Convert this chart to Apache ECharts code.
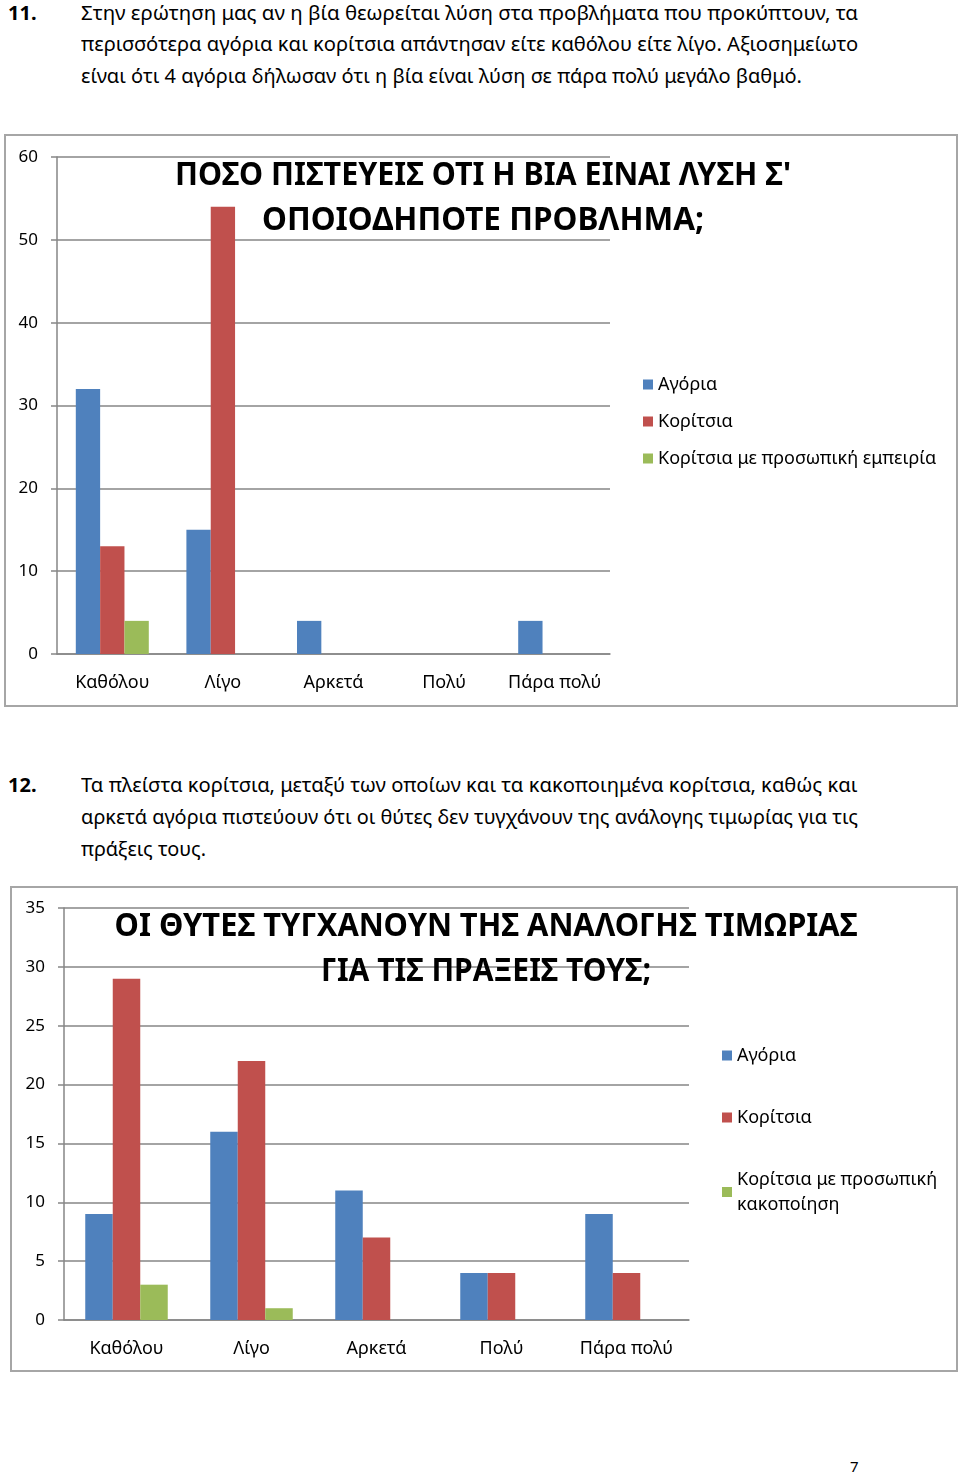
<!DOCTYPE html>
<html>
<head>
<meta charset="utf-8">
<script src="https://cdn.jsdelivr.net/npm/echarts@6/dist/echarts.min.js"></script>
<style>
  body { margin: 0; background: #fff; font-family: "Noto Sans", "Open Sans", sans-serif; }
  .page { position: relative; width: 960px; height: 1475px; }
  .line { position: absolute; white-space: nowrap; font-size: 20px; color: #000; transform-origin: left center; line-height: 24px; }
  .num { position: absolute; font-weight: bold; font-size: 20px; line-height: 24px; }
  .box { position: absolute; border: 2px solid #a6a6a6; box-sizing: border-box; }
</style>
</head>
<body>
<div class="page">
  <div class="num" style="left:8px; top:1px;">11.</div>
  <div class="line fit" data-w="777" style="left:81px; top:1px;">Στην ερώτηση μας αν η βία θεωρείται λύση στα προβλήματα που προκύπτουν, τα</div>
  <div class="line fit" data-w="777" style="left:81px; top:32px;">περισσότερα αγόρια και κορίτσια απάντησαν είτε καθόλου είτε λίγο. Αξιοσημείωτο</div>
  <div class="line fit" data-w="721" style="left:81px; top:64px;">είναι ότι 4 αγόρια δήλωσαν ότι η βία είναι λύση σε πάρα πολύ μεγάλο βαθμό.</div>

  <div class="box" id="chart1" style="left:4px; top:134px; width:954px; height:573px;"></div>

  <div class="num" style="left:8px; top:773px;">12.</div>
  <div class="line fit" data-w="777" style="left:81px; top:773px;">Τα πλείστα κορίτσια, μεταξύ των οποίων και τα κακοποιημένα κορίτσια, καθώς και</div>
  <div class="line fit" data-w="777" style="left:81px; top:805px;">αρκετά αγόρια πιστεύουν ότι οι θύτες δεν τυγχάνουν της ανάλογης τιμωρίας για τις</div>
  <div class="line fit" data-w="125" style="left:81px; top:837px;">πράξεις τους.</div>

  <div class="box" id="chart2" style="left:10px; top:886px; width:948px; height:486px;"></div>

  <div class="line" style="left:850px; top:1454px; font-size:15px;">7</div>
</div>
<script>
  // κατηγορίες και τιμές
  var categories = ["Καθόλου", "Λίγο", "Αρκετά", "Πολύ", "Πάρα πολύ"];
  var seriesNames1 = ["Αγόρια", "Κορίτσια", "Κορίτσια με προσωπική εμπειρία"];
  var boys1 = [32, 15, 4, 0, 4];
  var girls1 = [13, 54, 0, 0, 0];
  var girlsExp1 = [4, 0, 0, 0, 0];

  var seriesNames2 = ["Αγόρια", "Κορίτσια", "Κορίτσια με προσωπική κακοποίηση"];
  var boys2 = [9, 16, 11, 4, 9];
  var girls2 = [29, 22, 7, 4, 4];
  var girlsAbuse2 = [3, 1, 0, 0, 0];

  var titleLines1 = ["ΠΟΣΟ ΠΙΣΤΕΥΕΙΣ ΟΤΙ Η ΒΙΑ ΕΙΝΑΙ ΛΥΣΗ Σ'", "ΟΠΟΙΟΔΗΠΟΤΕ ΠΡΟΒΛΗΜΑ;"];
  var titleLines2 = ["ΟΙ ΘΥΤΕΣ ΤΥΓΧΑΝΟΥΝ ΤΗΣ ΑΝΑΛΟΓΗΣ ΤΙΜΩΡΙΑΣ", "ΓΙΑ ΤΙΣ ΠΡΑΞΕΙΣ ΤΟΥΣ;"];

  var colors = ["#4F81BD", "#C0504D", "#9BBB59"];
  var font = '"Noto Sans", "Open Sans", sans-serif';
  var titleFont = 'bold 33px ' + font;

  // στενεύω τις γραμμές κειμένου ώστε να πιάνουν το πλάτος του πρωτοτύπου
  document.querySelectorAll('.fit').forEach(function (el) {
    var w = +el.getAttribute('data-w');
    el.style.transform = 'scaleX(' + (w / el.scrollWidth) + ')';
  });

  var ctx = document.createElement('canvas').getContext('2d');
  ctx.font = titleFont;

  // τίτλος σε δύο γραμμές, κάθε μία στενεμένη στο πλάτος της
  function titleGraphic(lines, cx, ys, widths) {
    return lines.map(function (t, i) {
      return {
        type: 'text',
        x: cx,
        y: ys[i],
        scaleX: widths[i] / ctx.measureText(t).width,
        z: 100,
        style: {
          text: t,
          font: titleFont,
          fill: '#000',
          textAlign: 'center',
          textVerticalAlign: 'middle'
        }
      };
    });
  }

  function makeOption(cfg) {
    return {
      animation: false,
      color: colors,
      textStyle: { fontFamily: font },
      graphic: cfg.graphic,
      legend: {
        orient: 'vertical',
        left: cfg.legendLeft,
        top: cfg.legendTop,
        icon: 'rect',
        itemWidth: 10,
        itemHeight: 10,
        itemGap: cfg.legendGap,
        textStyle: { fontSize: 18, color: '#000', fontFamily: font, lineHeight: 25 },
        formatter: cfg.legendFormatter,
        data: cfg.names
      },
      grid: cfg.grid,
      xAxis: {
        type: 'category',
        data: categories,
        axisLine: { lineStyle: { color: '#868686', width: 1.5 } },
        axisTick: { length: 6, lineStyle: { color: '#868686', width: 1.5 } },
        axisLabel: { fontSize: 18, color: '#000', margin: 20, interval: 0 }
      },
      yAxis: {
        type: 'value',
        min: 0,
        max: cfg.max,
        interval: cfg.interval,
        axisLine: { show: true, lineStyle: { color: '#868686', width: 1.5 } },
        axisTick: { show: true, length: 6, lineStyle: { color: '#868686', width: 1.5 } },
        splitLine: { lineStyle: { color: '#868686', width: 1.5 } },
        axisLabel: { fontSize: 17, color: '#000', margin: 19 }
      },
      series: cfg.data.map(function (d, i) {
        return {
          name: cfg.names[i],
          type: 'bar',
          data: d,
          barGap: '0%',
          barCategoryGap: '34%'
        };
      })
    };
  }

  var chart1 = echarts.init(document.getElementById('chart1'));
  chart1.setOption(makeOption({
    graphic: titleGraphic(titleLines1, 477, [40, 85], [616, 442]),
    names: seriesNames1,
    data: [boys1, girls1, girlsExp1],
    grid: { left: 51, right: 346, top: 21, bottom: 51 },
    max: 60,
    interval: 10,
    legendLeft: 632,
    legendTop: 231,
    legendGap: 12
  }));

  var chart2 = echarts.init(document.getElementById('chart2'));
  chart2.setOption(makeOption({
    graphic: titleGraphic(titleLines2, 474, [39, 84], [743, 330]),
    names: seriesNames2,
    data: [boys2, girls2, girlsAbuse2],
    grid: { left: 52, right: 267, top: 20, bottom: 50 },
    max: 35,
    interval: 5,
    legendLeft: 705,
    legendTop: 150,
    legendGap: 37,
    legendFormatter: function (name) {
      return name.replace('προσωπική ', 'προσωπική\n');
    }
  }));
</script>
</body>
</html>
